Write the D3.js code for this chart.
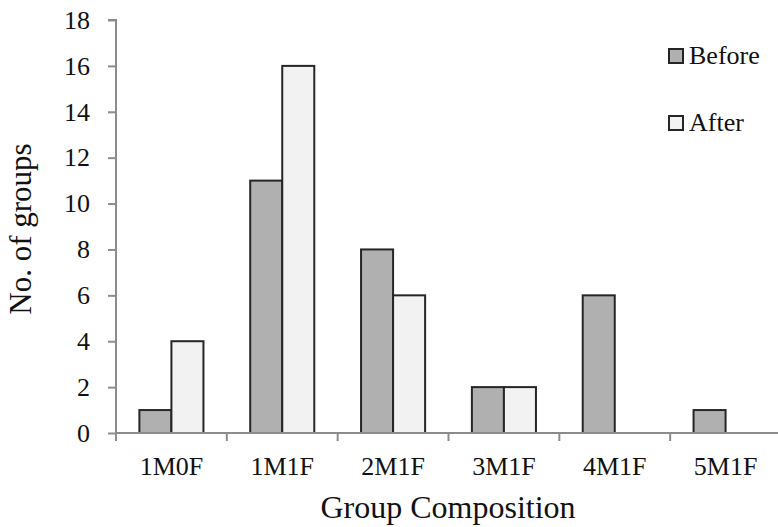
<!DOCTYPE html>
<html><head><meta charset="utf-8">
<script src="https://cdn.jsdelivr.net/npm/d3@7"></script>
<style>body{margin:0;background:#fff}svg{display:block}text{font-family:"Liberation Serif",serif;fill:#111}</style>
</head><body><svg id="c" width="778" height="527"></svg>
<script>
const categories = ["1M0F","1M1F","2M1F","3M1F","4M1F","5M1F"];
const seriesNames = ["Before","After"];
const before = [1,11,8,2,6,1];
const after = [4,16,6,2,0,0];
const yTicks = [0,2,4,6,8,10,12,14,16,18];
const colors = {Before:"#b0b0b0", After:"#f2f2f2"};
const FONT = "Liberation Serif";

const svg = d3.select("#c");
const m = {l:116, r:781, t:20, b:433};
const x = d3.scaleBand().domain(categories).range([m.l, m.r]).padding(0);
const xs = d3.scaleBand().domain(seriesNames).range([0, x.bandwidth()]).paddingOuter(0.73).paddingInner(0);
const y = d3.scaleLinear().domain([0,18]).range([m.b, m.t]);

const data = categories.map((c,i)=>({c, vals:[{k:"Before",v:before[i]},{k:"After",v:after[i]}]}));

// y axis
const ya = svg.append("g").attr("transform",`translate(${m.l},0)`)
  .call(d3.axisLeft(y).tickValues(yTicks).tickSize(8).tickPadding(18));
ya.select(".domain").attr("stroke","#8c8c8c").attr("stroke-width",2).attr("d",`M-8,${m.t}H0V${m.b}`);
ya.selectAll(".tick line").attr("stroke","#8c8c8c").attr("stroke-width",2);
ya.selectAll(".tick text").attr("font-size",26).attr("font-family",FONT).attr("fill","#111");

// bars
const g = svg.append("g");
data.forEach(d=>{
  d.vals.filter(v=>v.v>0).forEach(v=>{
    g.append("rect").attr("x",x(d.c)+xs(v.k)).attr("y",y(v.v))
     .attr("width",xs.bandwidth()).attr("height",y(0)-y(v.v))
     .attr("fill",colors[v.k]).attr("stroke","#262626").attr("stroke-width",2);
  });
});

// x axis
const xa = svg.append("g").attr("transform",`translate(0,${m.b})`)
  .call(d3.axisBottom(x).tickSize(0).tickPadding(24));
xa.select(".domain").attr("stroke","#8c8c8c").attr("stroke-width",2).attr("d",`M${m.l},0H${m.r}`);
xa.selectAll(".tick text").attr("font-size",26).attr("font-family",FONT).attr("fill","#111");
xa.selectAll(".bt").data(categories.map(c=>x(c))).enter().append("line")
  .attr("x1",d=>d).attr("x2",d=>d).attr("y1",0).attr("y2",8).attr("stroke","#8c8c8c").attr("stroke-width",2);

// titles
svg.append("text").attr("x",448).attr("y",518).attr("text-anchor","middle").attr("font-size",32).text("Group Composition");
svg.append("text").attr("transform","translate(31,229) rotate(-90)").attr("text-anchor","middle").attr("font-size",31).text("No. of groups");

// legend
const lg = svg.append("g");
seriesNames.forEach((s,i)=>{
  const yy = 56 + i*67;
  lg.append("rect").attr("x",669).attr("y",yy-7).attr("width",14).attr("height",14)
    .attr("fill",colors[s]).attr("stroke","#262626").attr("stroke-width",2);
  lg.append("text").attr("x",689).attr("y",yy+8).attr("font-size",26).text(s);
});
</script></body></html>
